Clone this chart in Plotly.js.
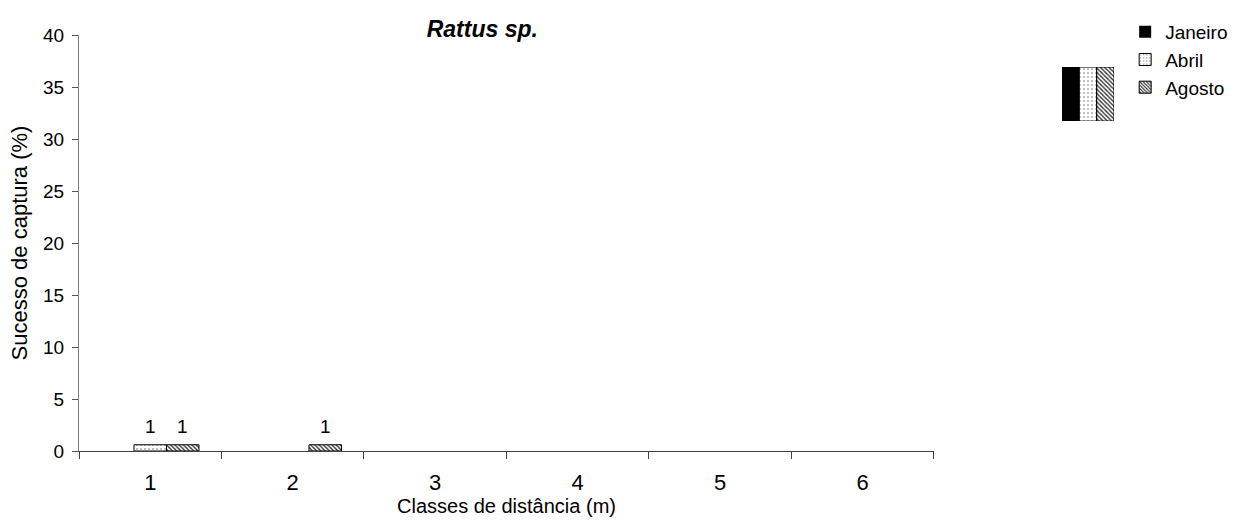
<!DOCTYPE html>
<html>
<head>
<meta charset="utf-8">
<script src="https://cdn.plot.ly/plotly-3.0.1.min.js"></script>
<style>
  html, body { margin: 0; padding: 0; background: #fff; }
  #chart { width: 1248px; height: 531px; }
</style>
</head>
<body>
<div id="chart"></div>
<script>
// Distance classes (m)
const classes = ['1', '2', '3', '4', '5', '6'];

// Capture success (%) per month
const janeiro = [0, 0, 0, 0, 0, 0];
const abril   = [0.6, 0, 0, 0, 0, 0];
const agosto  = [0.6, 0.6, 0, 0, 0, 0];

// Number of captures written above each bar
const nJaneiro = [0, 0, 0, 0, 0, 0];
const nAbril   = [1, 0, 0, 0, 0, 0];
const nAgosto  = [1, 1, 0, 0, 0, 0];

const months = ['Janeiro', 'Abril', 'Agosto'];

const FONT = 'Arial, "Liberation Sans", sans-serif';
const BARGAP = 0.316;

const styles = {
  Janeiro: { color: '#000000', pattern: { shape: '' } },
  Abril:   { color: '#ffffff', pattern: { shape: '.', fgcolor: '#a8a8a8', bgcolor: '#ffffff', size: 4, solidity: 0.2 } },
  Agosto:  { color: '#ffffff', pattern: { shape: '\\', fgcolor: '#333333', bgcolor: '#ffffff', size: 3, solidity: 0.45 } }
};

function series(name, values) {
  const s = styles[name];
  return {
    type: 'bar',
    name: name,
    x: classes,
    y: values,
    marker: {
      color: s.color,
      pattern: s.pattern,
      // empty classes get no outline
      line: { color: '#000', width: values.map(v => (v > 0 ? 1 : 0)) }
    },
    hoverinfo: 'x+y+name'
  };
}

// Striped key box next to the legend: one stripe per month
function keyStripe(name, i) {
  const s = styles[name];
  return {
    type: 'bar',
    xaxis: 'x2',
    yaxis: 'y2',
    x: [i],
    y: [1],
    width: 1,
    offset: -0.5,
    showlegend: false,
    hoverinfo: 'skip',
    marker: {
      color: s.color,
      pattern: s.pattern,
      line: { color: '#000', width: 1 }
    }
  };
}

// Capture counts above the bars, placed at each bar's slot within its group
const seriesValues = [janeiro, abril, agosto];
const seriesCounts = [nJaneiro, nAbril, nAgosto];
const slot = (1 - BARGAP) / months.length;
const countLabels = [];
seriesCounts.forEach((counts, si) => {
  counts.forEach((c, ci) => {
    if (!c) return;
    countLabels.push({
      xref: 'x', yref: 'y',
      x: ci + (si - 1) * slot,
      y: seriesValues[si][ci],
      text: String(c),
      showarrow: false,
      xanchor: 'center',
      yanchor: 'bottom',
      yshift: 6,
      font: { family: FONT, size: 19, color: '#000' }
    });
  });
});

const data = [
  series('Janeiro', janeiro),
  series('Abril', abril),
  series('Agosto', agosto),
  ...months.map(keyStripe)
];

const layout = {
  width: 1248,
  height: 531,
  margin: { l: 79, r: 20, t: 35, b: 80 },
  paper_bgcolor: '#fff',
  plot_bgcolor: '#fff',
  font: { family: FONT, color: '#000' },
  barmode: 'group',
  bargap: BARGAP,
  bargroupgap: 0,
  showlegend: true,
  annotations: countLabels,
  title: {
    text: '<b><i>Rattus sp.</i></b>',
    font: { family: FONT, size: 23, color: '#000' },
    xref: 'paper',
    x: 0.351,
    xanchor: 'center',
    yref: 'container',
    y: 0.945,
    yanchor: 'middle'
  },
  xaxis: {
    domain: [0, 0.7441],
    type: 'category',
    categoryorder: 'array',
    categoryarray: classes,
    range: [-0.5, 5.5],
    tickson: 'boundaries',
    ticks: 'outside',
    ticklen: 7,
    tickcolor: '#444',
    showline: true,
    linecolor: '#444',
    linewidth: 1,
    showgrid: false,
    zeroline: false,
    ticklabelstandoff: 12,
    tickfont: { family: FONT, size: 22, color: '#000' },
    title: {
      text: 'Classes de distância (m)',
      font: { family: FONT, size: 20, color: '#000' },
      standoff: 4
    },
    fixedrange: true
  },
  yaxis: {
    range: [0, 40],
    dtick: 5,
    ticks: 'outside',
    ticklen: 6,
    tickcolor: '#555',
    showline: true,
    linecolor: '#808080',
    linewidth: 1,
    showgrid: false,
    zeroline: false,
    ticklabelstandoff: 4,
    tickfont: { family: FONT, size: 19, color: '#000' },
    title: {
      text: 'Sucesso de captura (%)',
      font: { family: FONT, size: 22, color: '#000' },
      standoff: 9
    },
    fixedrange: true
  },
  xaxis2: {
    domain: [0.8555, 0.9008],
    anchor: 'y2',
    range: [-0.5, 2.5],
    visible: false,
    fixedrange: true
  },
  yaxis2: {
    domain: [0.793, 0.923],
    anchor: 'x2',
    range: [0, 1],
    visible: false,
    fixedrange: true
  },
  legend: {
    x: 0.9105,
    xanchor: 'left',
    y: 1.053,
    yanchor: 'top',
    traceorder: 'normal',
    font: { family: FONT, size: 19, color: '#000' },
    bgcolor: 'rgba(0,0,0,0)',
    borderwidth: 0
  }
};

Plotly.newPlot('chart', data, layout, { displayModeBar: false, staticPlot: true });
</script>
</body>
</html>
